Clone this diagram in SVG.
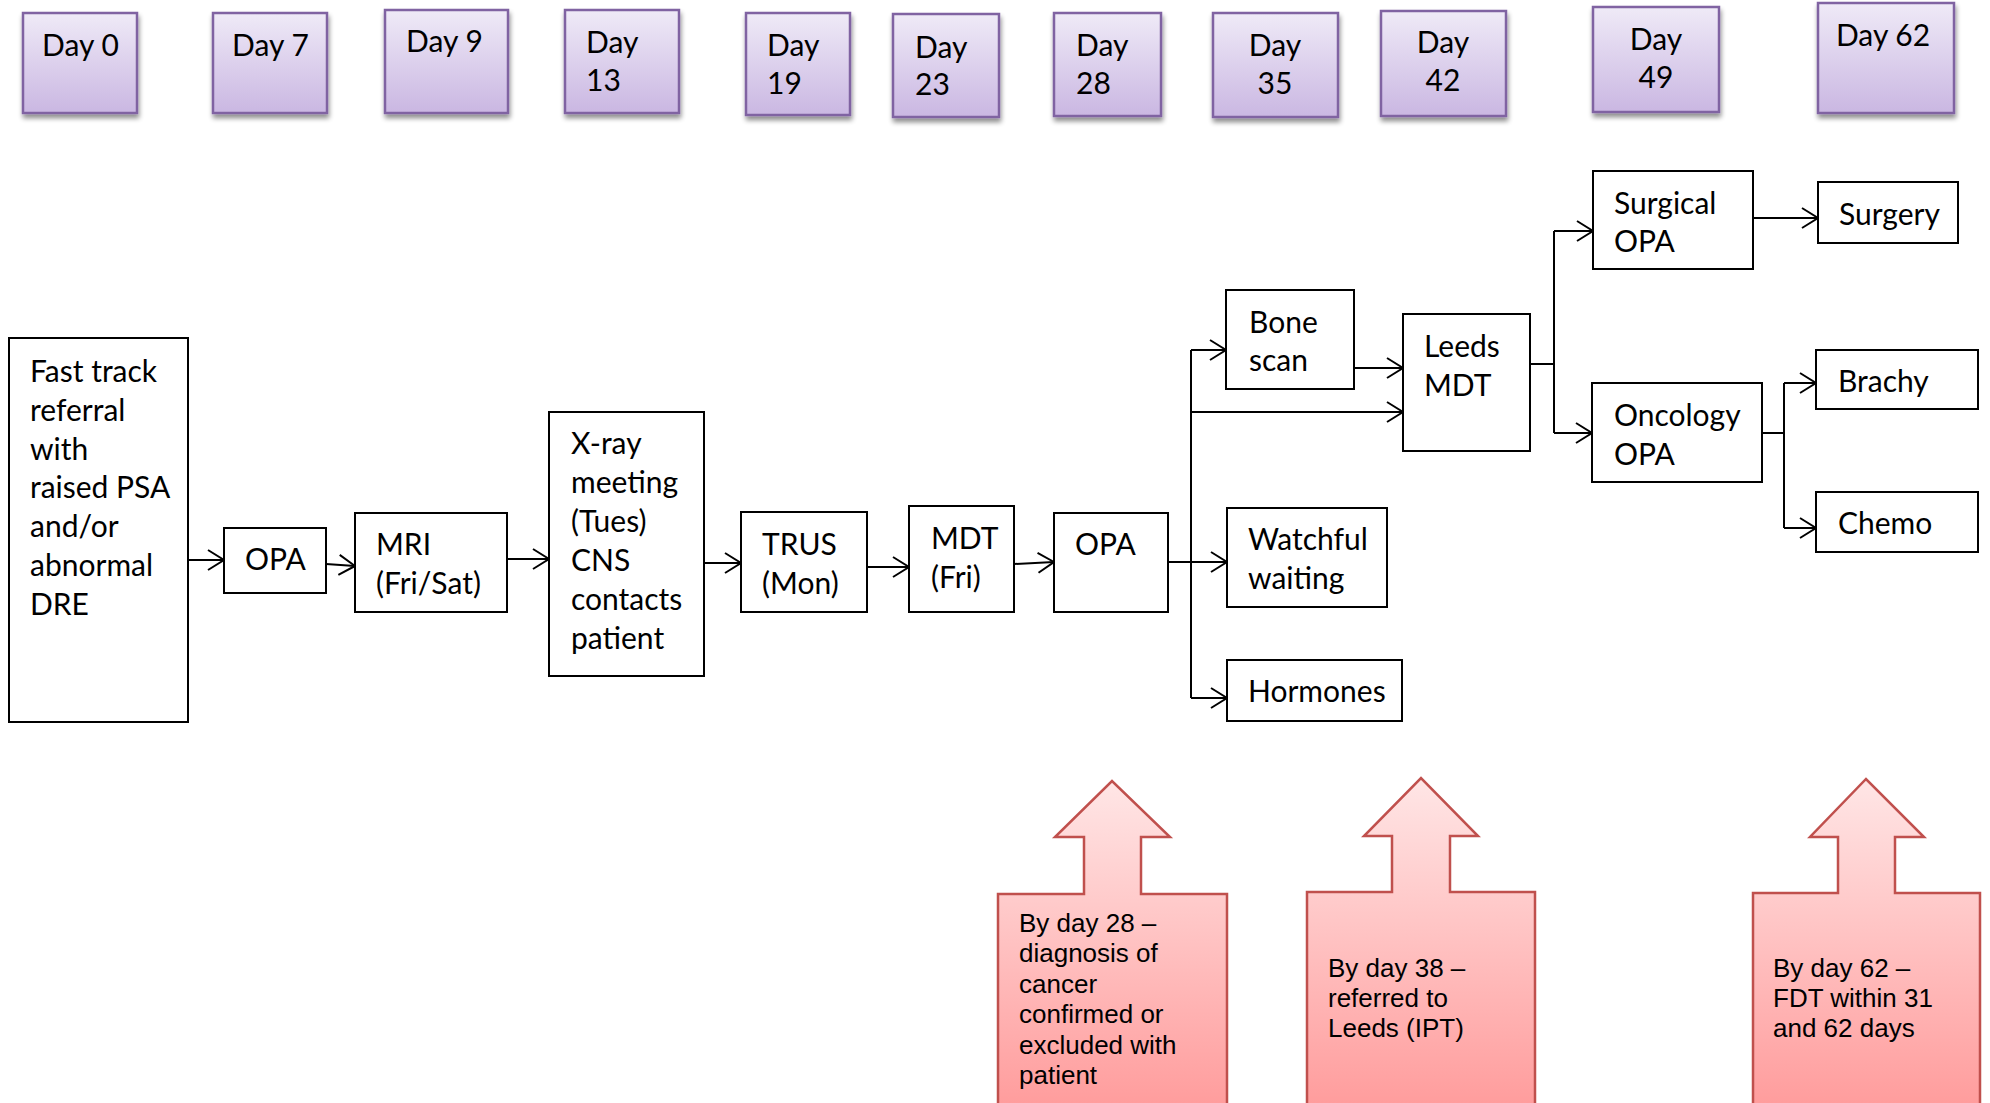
<svg xmlns="http://www.w3.org/2000/svg" width="1990" height="1103" viewBox="0 0 1990 1103">
<defs>
<linearGradient id="gDay" x1="0" y1="0" x2="0" y2="1">
<stop offset="0" stop-color="#EFEAF7"/>
<stop offset="1" stop-color="#CAB7E2"/>
</linearGradient>
<linearGradient id="gRed" x1="0" y1="0" x2="0" y2="1">
<stop offset="0" stop-color="#FFE6E6"/>
<stop offset="1" stop-color="#FF9B9B"/>
</linearGradient>
<filter id="sh" x="-10%" y="-10%" width="125%" height="130%">
<feGaussianBlur in="SourceAlpha" stdDeviation="2.5"/>
<feOffset dx="1" dy="4" result="b"/>
<feComponentTransfer><feFuncA type="linear" slope="0.45"/></feComponentTransfer>
<feMerge><feMergeNode/><feMergeNode in="SourceGraphic"/></feMerge>
</filter>
<marker id="ar" markerUnits="userSpaceOnUse" markerWidth="22" markerHeight="24" refX="17" refY="11" orient="auto">
<path d="M1,1 L17,11 L1,21" fill="none" stroke="#000" stroke-width="2"/>
</marker>
</defs>
<style>
.day rect{fill:url(#gDay);stroke:#8064A2;stroke-width:2.5}
.day text{font-family:Lato,"Liberation Sans",sans-serif;font-size:30px;fill:#000}
.box rect{fill:#fff;stroke:#000;stroke-width:2}
.box text{font-family:Lato,"Liberation Sans",sans-serif;font-size:30px;fill:#000}
.call path{fill:url(#gRed);stroke:#C0504D;stroke-width:2.5}
.call text{font-family:"Liberation Sans",Arial,sans-serif;font-size:26px;fill:#000}
.con path{fill:none;stroke:#000;stroke-width:2}
</style>

<g id="day0" class="day"><rect x="23" y="13" width="114" height="100" filter="url(#sh)"/><text x="42" y="56">Day 0</text></g>
<g id="day7" class="day"><rect x="213" y="13" width="114" height="100" filter="url(#sh)"/><text x="232" y="56">Day 7</text></g>
<g id="day9" class="day"><rect x="385" y="10" width="123" height="103" filter="url(#sh)"/><text x="406" y="52">Day 9</text></g>
<g id="day13" class="day"><rect x="565" y="10" width="114" height="103" filter="url(#sh)"/><text x="586" y="53">Day</text><text x="586" y="91">13</text></g>
<g id="day19" class="day"><rect x="746" y="13" width="104" height="102" filter="url(#sh)"/><text x="767" y="56">Day</text><text x="767" y="94">19</text></g>
<g id="day23" class="day"><rect x="893" y="14" width="106" height="103" filter="url(#sh)"/><text x="915" y="58">Day</text><text x="915" y="95">23</text></g>
<g id="day28" class="day"><rect x="1054" y="13" width="107" height="103" filter="url(#sh)"/><text x="1076" y="56">Day</text><text x="1076" y="94">28</text></g>
<g id="day35" class="day"><rect x="1213" y="13" width="125" height="104" filter="url(#sh)"/><text x="1275" y="56" text-anchor="middle">Day</text><text x="1275" y="94" text-anchor="middle">35</text></g>
<g id="day42" class="day"><rect x="1381" y="11" width="125" height="105" filter="url(#sh)"/><text x="1443" y="53" text-anchor="middle">Day</text><text x="1443" y="91" text-anchor="middle">42</text></g>
<g id="day49" class="day"><rect x="1593" y="7" width="126" height="105" filter="url(#sh)"/><text x="1656" y="50" text-anchor="middle">Day</text><text x="1656" y="88" text-anchor="middle">49</text></g>
<g id="day62" class="day"><rect x="1818" y="3" width="136" height="110" filter="url(#sh)"/><text x="1883" y="46" text-anchor="middle">Day 62</text></g>

<g id="connectors" class="con">
<path d="M188,560 H224" marker-end="url(#ar)"/>
<path d="M326,564 L355,566" marker-end="url(#ar)"/>
<path d="M507,559 H549" marker-end="url(#ar)"/>
<path d="M704,563 H741" marker-end="url(#ar)"/>
<path d="M867,567 H909" marker-end="url(#ar)"/>
<path d="M1014,564 L1054,562" marker-end="url(#ar)"/>
<path d="M1168,562 H1191"/>
<path d="M1191,350 V698"/>
<path d="M1191,350 H1226" marker-end="url(#ar)"/>
<path d="M1191,412 H1403" marker-end="url(#ar)"/>
<path d="M1191,562 H1227" marker-end="url(#ar)"/>
<path d="M1191,698 H1227" marker-end="url(#ar)"/>
<path d="M1354,368 H1403" marker-end="url(#ar)"/>
<path d="M1530,364 H1554"/>
<path d="M1554,231 V433"/>
<path d="M1554,231 H1593" marker-end="url(#ar)"/>
<path d="M1554,433 H1592" marker-end="url(#ar)"/>
<path d="M1753,218 H1818" marker-end="url(#ar)"/>
<path d="M1762,433 H1784"/>
<path d="M1784,383 V528"/>
<path d="M1784,383 H1816" marker-end="url(#ar)"/>
<path d="M1784,528 H1816" marker-end="url(#ar)"/>
</g>

<g id="fasttrack" class="box"><rect x="9" y="338" width="179" height="384"/>
<text x="30" y="382">Fast track</text><text x="30" y="421">referral</text><text x="30" y="460">with</text><text x="30" y="498">raised PSA</text><text x="30" y="537">and/or</text><text x="30" y="576">abnormal</text><text x="30" y="615">DRE</text></g>
<g id="opa1" class="box"><rect x="224" y="528" width="102" height="65"/><text x="245" y="570">OPA</text></g>
<g id="mri" class="box"><rect x="355" y="513" width="152" height="99"/><text x="376" y="555">MRI</text><text x="376" y="594">(Fri/Sat)</text></g>
<g id="xray" class="box"><rect x="549" y="412" width="155" height="264"/>
<text x="571" y="454">X-ray</text><text x="571" y="493">meeting</text><text x="571" y="532">(Tues)</text><text x="571" y="571">CNS</text><text x="571" y="610">contacts</text><text x="571" y="649">patient</text></g>
<g id="trus" class="box"><rect x="741" y="512" width="126" height="100"/><text x="762" y="555">TRUS</text><text x="762" y="594">(Mon)</text></g>
<g id="mdt" class="box"><rect x="909" y="506" width="105" height="106"/><text x="931" y="549">MDT</text><text x="931" y="588">(Fri)</text></g>
<g id="opa2" class="box"><rect x="1054" y="513" width="114" height="99"/><text x="1075" y="555">OPA</text></g>
<g id="bonescan" class="box"><rect x="1226" y="290" width="128" height="99"/><text x="1249" y="333">Bone</text><text x="1249" y="371">scan</text></g>
<g id="watchful" class="box"><rect x="1227" y="508" width="160" height="99"/><text x="1248" y="550">Watchful</text><text x="1248" y="589">waiting</text></g>
<g id="hormones" class="box"><rect x="1227" y="660" width="175" height="61"/><text x="1248" y="702">Hormones</text></g>
<g id="leedsmdt" class="box"><rect x="1403" y="314" width="127" height="137"/><text x="1424" y="357">Leeds</text><text x="1424" y="396">MDT</text></g>
<g id="surgicalopa" class="box"><rect x="1593" y="171" width="160" height="98"/><text x="1614" y="214">Surgical</text><text x="1614" y="252">OPA</text></g>
<g id="oncologyopa" class="box"><rect x="1592" y="383" width="170" height="99"/><text x="1614" y="426">Oncology</text><text x="1614" y="465">OPA</text></g>
<g id="surgery" class="box"><rect x="1818" y="182" width="140" height="61"/><text x="1839" y="225">Surgery</text></g>
<g id="brachy" class="box"><rect x="1816" y="350" width="162" height="59"/><text x="1838" y="392">Brachy</text></g>
<g id="chemo" class="box"><rect x="1816" y="492" width="162" height="60"/><text x="1838" y="534">Chemo</text></g>

<g id="callout28" class="call"><path d="M998,894 H1084 V837 H1055 L1112,781 L1170,837 H1141 V894 H1227 V1112 H998 Z"/>
<text x="1019" y="932">By day 28 –</text><text x="1019" y="962">diagnosis of</text><text x="1019" y="993">cancer</text><text x="1019" y="1023">confirmed or</text><text x="1019" y="1054">excluded with</text><text x="1019" y="1084">patient</text></g>
<g id="callout38" class="call"><path d="M1307,892 H1392 V836 H1364 L1421,778 L1478,836 H1450 V892 H1535 V1112 H1307 Z"/>
<text x="1328" y="977">By day 38 –</text><text x="1328" y="1007">referred to</text><text x="1328" y="1037">Leeds (IPT)</text></g>
<g id="callout62" class="call"><path d="M1753,893 H1838 V837 H1810 L1866,779 L1924,837 H1895 V893 H1980 V1112 H1753 Z"/>
<text x="1773" y="977">By day 62 –</text><text x="1773" y="1007">FDT within 31</text><text x="1773" y="1037">and 62 days</text></g>
</svg>
